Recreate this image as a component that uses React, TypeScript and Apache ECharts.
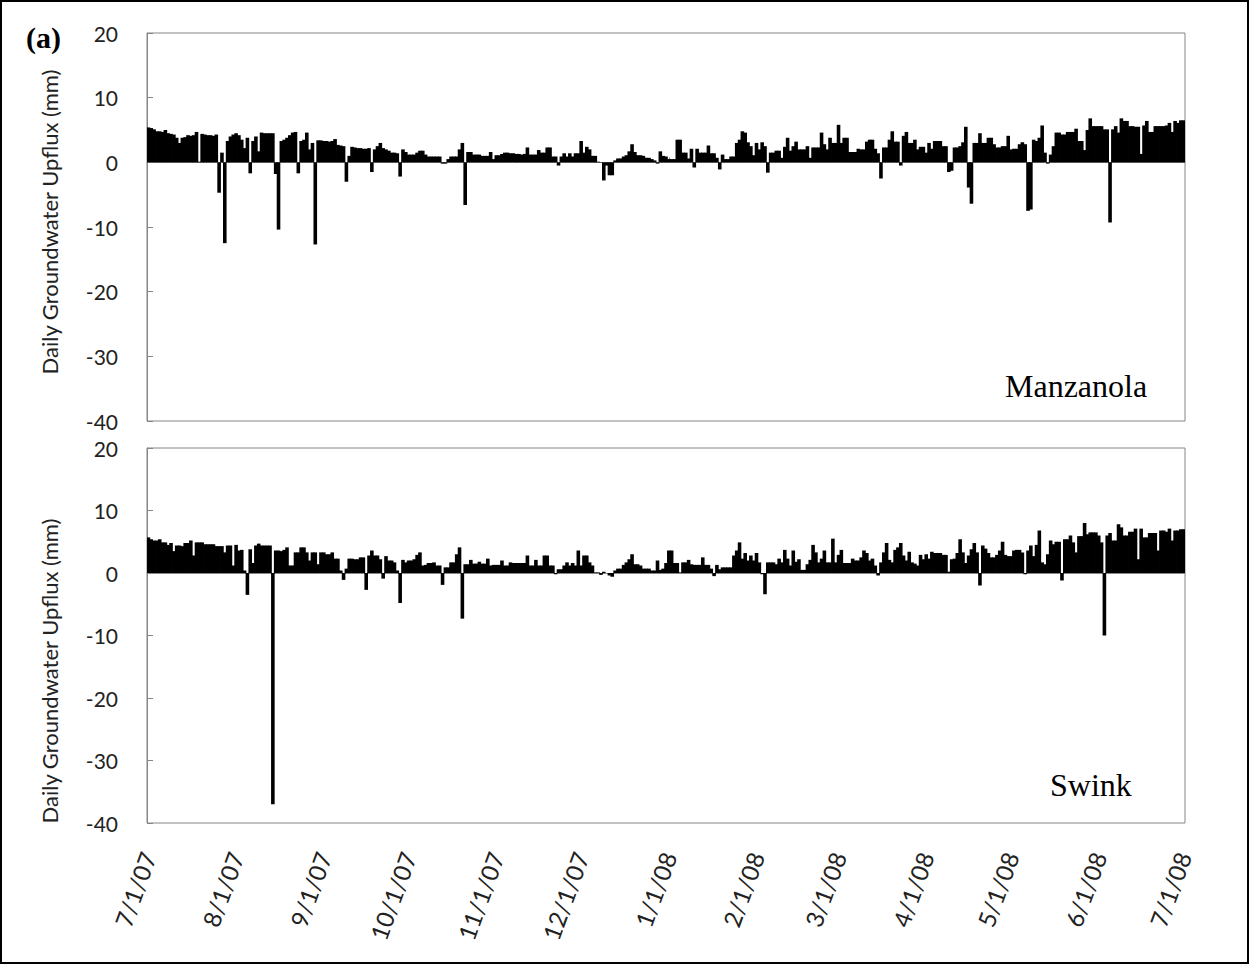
import { useEffect, useRef } from "react";
import * as echarts from "echarts";

// month tick positions (day index from 7/1/07) and their labels
const monthStarts = [0, 31, 62, 92, 123, 153, 184, 215, 244, 275, 305, 336, 366];
const monthLabels = ["7/1/07", "8/1/07", "9/1/07", "10/1/07", "11/1/07", "12/1/07", "1/1/08", "2/1/08", "3/1/08", "4/1/08", "5/1/08", "6/1/08", "7/1/08"];

// daily groundwater upflux (mm), 7/1/07 .. 7/1/08
const manzanola = [
  5.4, 5.3, 5.1, 4.8, 4.8, 4.7, 5.0, 4.5, 4.4, 4.3,
  3.8, 3.0, 3.8, 3.9, 4.2, 4.1, 4.2, 4.7, 0.1, 4.4,
  4.3, 4.2, 4.2, 4.1, 4.3, -4.7, 1.5, -12.5, 3.3, 4.0,
  4.3, 4.5, 4.2, 3.5, 2.2, 3.8, -1.7, 3.3, 4.0, 1.7,
  4.6, 4.5, 4.5, 4.5, 4.5, -1.8, -10.4, 3.3, 3.5, 3.8,
  4.2, 4.6, 4.7, -1.7, 3.3, 3.5, 4.6, 2.0, 3.0, -12.7,
  3.4, 3.4, 3.3, 3.3, 3.2, 3.3, 3.6, 2.7, 2.6, 2.5,
  -3.0, 1.0, 2.4, 2.3, 2.2, 2.2, 2.1, 2.1, 2.2, -1.5,
  2.0, 2.5, 3.0, 2.2, 2.0, 1.8, 1.5, 1.5, 1.4, -2.2,
  2.0, 1.6, 1.2, 1.2, 1.2, 1.5, 1.8, 1.8, 1.2, 0.9,
  0.9, 0.9, 0.9, 0.9, -0.2, -0.2, 0.5, 0.9, 0.9, 0.9,
  2.0, 3.0, -6.6, 1.6, 1.6, 1.2, 1.2, 1.2, 1.0, 1.0,
  1.0, 1.6, 0.5, 1.1, 1.1, 1.3, 1.5, 1.5, 1.4, 1.4,
  1.3, 1.3, 1.2, 1.3, 2.3, 1.2, 1.2, 1.2, 1.9, 1.5,
  1.5, 2.3, 2.3, 0.9, 0.9, -0.5, 0.9, 1.4, 0.9, 1.4,
  0.9, 1.4, 1.4, 3.3, 1.5, 2.4, 2.0, 1.0, 1.0, 0.1,
  0.05, -2.8, -0.5, -2.0, -2.0, 0.3, 0.6, 0.6, 0.9, 1.1,
  1.7, 2.8, 1.6, 1.1, 1.1, 1.0, 0.7, 0.7, 0.5, 0.3,
  -0.2, 1.7, 1.0, 0.9, 0.5, 0.5, 0.5, 3.5, 3.5, 1.5,
  1.5, 0.6, 2.1, -0.8, 2.1, 1.5, 1.5, 1.5, 2.6, 1.4,
  1.4, 0.7, -1.1, 1.2, 0.5, 0.5, 0.9, 0.9, 3.0, 3.5,
  4.8, 4.6, 3.1, 2.5, 1.1, 3.0, 2.0, 3.1, 2.5, -1.6,
  1.5, 1.5, 1.8, 1.8, 0.7, 2.4, 3.8, 1.8, 2.5, 3.2,
  2.0, 2.0, 2.0, 2.5, 0.7, 2.3, 2.3, 2.3, 4.6, 2.8,
  2.0, 3.8, 3.0, 3.0, 5.8, 3.0, 3.8, 3.8, 1.6, 1.6,
  1.6, 2.1, 2.0, 2.0, 3.2, 3.5, 3.5, 2.1, 1.4, -2.5,
  2.3, 2.3, 3.5, 4.8, 3.2, 3.2, -0.5, 4.1, 4.7, 3.0,
  3.0, 3.5, 2.0, 2.4, 2.4, 1.5, 3.0, 2.1, 3.3, 3.3,
  3.3, 2.5, 2.5, -1.5, -1.3, 2.3, 2.3, 2.5, 3.1, 5.5,
  -3.9, -6.4, 3.0, 3.0, 4.5, 3.0, 3.0, 3.8, 3.8, 2.8,
  2.3, 2.3, 2.5, 2.5, 4.1, 2.0, 2.1, 2.1, 2.8, 3.1,
  2.8, -7.5, -7.3, 3.5, 3.3, 3.8, 5.7, 1.5, -0.2, 1.2,
  2.5, 4.6, 4.6, 4.3, 4.3, 4.7, 4.7, 4.7, 5.2, 3.3,
  3.3, 1.9, 5.0, 6.8, 5.6, 5.6, 5.6, 5.6, 5.1, 5.1,
  -9.3, 5.1, 5.6, 4.6, 6.8, 6.4, 6.4, 5.6, 5.6, 5.5,
  5.5, 1.3, 5.7, 6.4, 4.7, 4.7, 5.6, 5.6, 5.6, 5.6,
  5.7, 6.1, 4.7, 6.4, 6.1, 6.5, 6.5,
];

const swink = [
  5.7, 5.4, 5.2, 5.2, 5.4, 4.9, 4.9, 4.5, 4.8, 3.5,
  4.4, 4.4, 4.3, 4.8, 4.8, 5.2, 2.8, 4.9, 4.9, 4.9,
  4.6, 4.6, 4.6, 4.6, 4.3, 4.3, 4.3, 3.3, 4.4, 4.4,
  1.2, 4.5, 3.6, 3.7, 0.4, -3.5, 3.8, 1.6, 4.4, 4.7,
  4.4, 4.4, 4.4, 4.4, -37, 3.6, 3.6, 3.5, 3.7, 4.1,
  1.2, 1.2, 3.3, 3.3, 4.1, 4.1, 3.3, 2.0, 3.3, 3.3,
  1.4, 3.3, 3.3, 3.0, 3.0, 3.3, 2.3, 2.3, 0.4, -1.1,
  0.7, 2.3, 2.3, 2.2, 2.2, 2.5, 2.5, -2.7, 2.8, 3.6,
  2.8, 2.8, 2.2, -0.9, 2.7, 2.0, 2.0, 1.7, 0.4, -4.8,
  2.1, 1.7, 2.0, 2.0, 2.2, 2.9, 3.3, 1.2, 1.3, 1.6,
  1.6, 1.7, 1.2, 1.2, -1.9, 0.9, 0.9, 1.7, 1.7, 3.0,
  4.1, -7.3, 1.4, 1.4, 2.1, 1.5, 1.5, 1.8, 1.5, 1.5,
  2.3, 1.2, 1.3, 1.3, 1.3, 2.0, 1.2, 1.2, 1.7, 1.6,
  1.6, 1.6, 1.6, 1.6, 2.8, 1.2, 1.2, 2.1, 1.2, 1.2,
  2.8, 2.8, 1.2, 1.2, -0.2, 0.6, 0.6, 1.2, 1.7, 1.2,
  1.6, 1.2, 3.6, 1.2, 2.8, 2.8, 1.7, 1.2, 0.1, 0.1,
  -0.3, 0.2, 0.0, -0.4, -0.6, 0.4, 0.7, 0.7, 1.3, 1.7,
  2.2, 3.0, 1.4, 1.4, 1.2, 0.7, 0.7, 0.7, 0.4, 0.4,
  2.0, 0.5, 0.7, 1.6, 3.6, 3.6, 1.6, 1.6, 0.1, 1.7,
  1.7, 2.1, 1.4, 1.3, 1.3, 1.3, 2.5, 1.3, 1.3, 0.7,
  -0.5, 1.3, 0.6, 0.9, 0.9, 0.9, 0.9, 2.8, 3.6, 4.9,
  2.3, 3.2, 2.0, 2.8, 2.0, 3.2, 1.7, -0.2, -3.4, 1.7,
  1.7, 1.7, 1.4, 2.3, 1.7, 3.7, 2.3, 1.2, 3.6, 1.8,
  2.2, 0.5, 0.5, 1.4, 2.1, 4.5, 3.3, 1.7, 2.3, 3.6,
  1.7, 1.7, 5.5, 1.7, 2.9, 3.7, 1.6, 1.6, 1.6, 2.3,
  2.0, 2.0, 2.5, 3.6, 3.2, 2.0, 2.3, 1.2, -0.4, 1.7,
  3.3, 4.8, 2.1, 1.7, 3.7, 4.1, 4.8, 2.8, 2.0, 3.4,
  1.7, 1.5, 1.2, 2.9, 2.2, 3.0, 2.3, 3.4, 3.2, 3.2,
  3.2, 2.9, 2.9, 0.2, 2.2, 2.3, 3.2, 5.4, 3.3, 1.6,
  2.8, 3.8, 4.8, 3.3, -2.0, 4.4, 3.9, 3.2, 2.5, 2.5,
  2.9, 3.6, 5.0, 2.9, 2.7, 2.7, 3.6, 3.7, 3.7, 3.3,
  -0.2, 3.6, 4.4, 2.7, 4.5, 6.8, 1.7, 1.4, 3.0, 5.2,
  4.6, 5.0, 5.0, -1.2, 5.4, 5.4, 6.0, 4.9, 3.3, 5.9,
  5.9, 8.0, 6.2, 6.5, 6.5, 6.5, 6.0, 4.9, -10.0, 6.0,
  6.4, 5.2, 5.2, 7.8, 7.3, 6.0, 6.0, 6.6, 6.6, 7.1,
  2.2, 7.1, 5.7, 5.7, 6.4, 6.4, 6.4, 3.6, 6.8, 6.8,
  6.6, 7.1, 5.2, 6.8, 6.8, 7.0, 7.0,
];

const yTitle = "Daily Groundwater Upflux (mm)";

const days = manzanola.map((_, i) => String(i));
const isMonthStart = (i: number) => monthStarts.includes(i);

const AXIS_GRAY = "#868686";
const FONT = "Lato";

function yAxisFor(gridIndex: number) {
  return {
    type: "value",
    gridIndex,
    min: -40,
    max: 20,
    interval: 10,
    splitLine: { show: false },
    axisLine: { show: true, lineStyle: { color: AXIS_GRAY } },
    axisTick: { show: true, inside: true, length: 6, lineStyle: { color: AXIS_GRAY } },
    axisLabel: { color: "#222", fontSize: 21, fontFamily: FONT, margin: 29 },
  };
}

function zeroAxisFor(gridIndex: number) {
  return {
    type: "category",
    gridIndex,
    data: days,
    axisLine: { show: true, onZero: true, lineStyle: { color: AXIS_GRAY } },
    axisTick: { show: true, inside: true, length: 5, alignWithLabel: true, interval: (i: number) => isMonthStart(i), lineStyle: { color: AXIS_GRAY } },
    axisLabel: { show: false },
  };
}

// bars a little wider than a day so neighbouring days join into one mass
const BAR_W = 3.6;

export default function App() {
  const ref = useRef<HTMLDivElement>(null);

  useEffect(() => {
    document.body.style.margin = "0";
    if (!ref.current) return;
    const chart = echarts.init(ref.current, undefined, { renderer: "svg" });

    chart.setOption({
      animation: false,
      backgroundColor: "#fff",
      textStyle: { fontFamily: FONT },
      grid: [
        { left: 147, right: 65, top: 33, height: 388, show: true, borderColor: AXIS_GRAY, borderWidth: 1, backgroundColor: "transparent" },
        { left: 147, right: 65, top: 448, height: 375, show: true, borderColor: AXIS_GRAY, borderWidth: 1, backgroundColor: "transparent" },
      ],
      xAxis: [
        zeroAxisFor(0),
        zeroAxisFor(1),
        {
          type: "category",
          gridIndex: 1,
          data: days,
          position: "bottom",
          axisLine: { show: false, onZero: false },
          axisTick: { show: false },
          axisLabel: {
            interval: (i: number) => isMonthStart(i),
            formatter: (_v: string, i: number) => monthLabels[monthStarts.indexOf(i)] ?? "",
            rotate: 70,
            fontSize: 24,
            color: "#222",
            fontFamily: FONT,
            margin: 30,
          },
        },
      ],
      yAxis: [yAxisFor(0), yAxisFor(1)],
      series: [
        {
          name: "Manzanola", type: "bar", xAxisIndex: 0, yAxisIndex: 0,
          data: manzanola, barWidth: BAR_W, itemStyle: { color: "#000" },
        },
        {
          name: "Swink", type: "bar", xAxisIndex: 1, yAxisIndex: 1,
          data: swink, barWidth: BAR_W, itemStyle: { color: "#000" },
        },
      ],
      graphic: [
        { type: "rect", shape: { x: 1, y: 1, width: 1247, height: 962 }, style: { fill: "none", stroke: "#000", lineWidth: 2 }, silent: true },
        { type: "text", left: 26, top: 22, style: { text: "(a)", font: "bold 30px 'Liberation Serif'", fill: "#000" } },
        { type: "text", x: 49, y: 222, rotation: Math.PI / 2, style: { text: yTitle, font: `22px ${FONT}`, fill: "#222", align: "center", verticalAlign: "middle" } },
        { type: "text", x: 49, y: 671, rotation: Math.PI / 2, style: { text: yTitle, font: `22px ${FONT}`, fill: "#222", align: "center", verticalAlign: "middle" } },
        { type: "text", x: 1005, y: 386, style: { text: "Manzanola", font: "32px 'Liberation Serif'", fill: "#000", verticalAlign: "middle" } },
        { type: "text", x: 1050, y: 785, style: { text: "Swink", font: "32px 'Liberation Serif'", fill: "#000", verticalAlign: "middle" } },
      ],
    });

    return () => chart.dispose();
  }, []);

  return <div ref={ref} style={{ width: 1250, height: 966 }} />;
}
